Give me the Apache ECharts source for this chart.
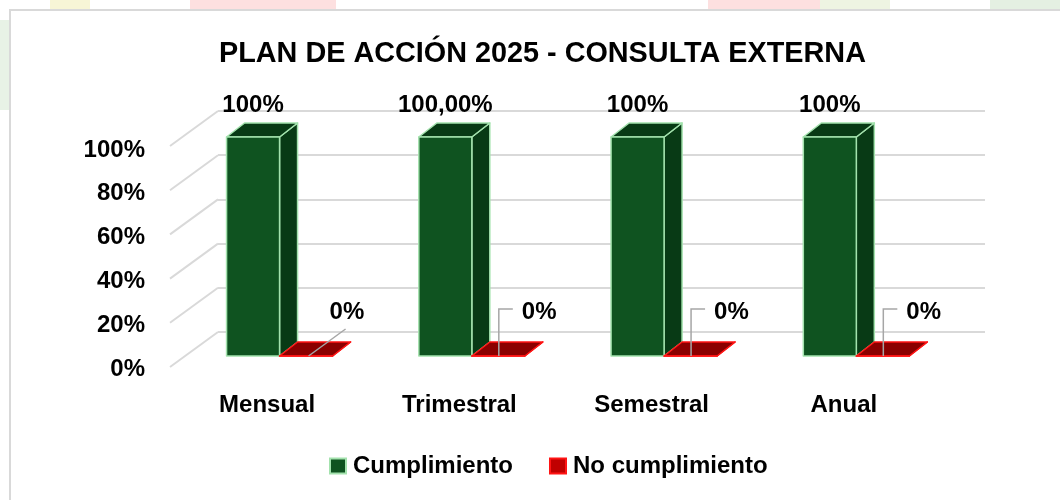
<!DOCTYPE html>
<html>
<head>
<meta charset="utf-8">
<title>Plan de acción 2025 - Consulta externa</title>
<script src="https://cdn.jsdelivr.net/npm/echarts@6/dist/echarts.min.js"></script>
<style>
  html, body { margin: 0; padding: 0; background: #fff; }
  #wrap { position: relative; width: 1060px; height: 500px; overflow: hidden; }
  .deco { position: absolute; }
  #frame { position: absolute; left: 9px; top: 9px; width: 1100px; height: 600px; border: 2px solid #d9d9d9; background: #fff; }
  #main { position: absolute; left: 0; top: 0; width: 1060px; height: 500px; }
</style>
</head>
<body>
<div id="wrap">
  <!-- faint watermark behind the chart box -->
  <div class="deco" style="left:190px;top:0;width:146px;height:10px;background:#fde0e0"></div>
  <div class="deco" style="left:708px;top:0;width:147px;height:10px;background:#fde0e0"></div>
  <div class="deco" style="left:50px;top:0;width:40px;height:10px;background:#f7f5d6"></div>
  <div class="deco" style="left:820px;top:0;width:70px;height:10px;background:#eef4e2"></div>
  <div class="deco" style="left:990px;top:0;width:70px;height:10px;background:#e4f0e2"></div>
  <div class="deco" style="left:0;top:20px;width:9px;height:90px;background:#e8f2e6"></div>
  <div id="frame"></div>
  <div id="main"></div>
</div>
<script>
const categories = ['Mensual', 'Trimestral', 'Semestral', 'Anual']
const cumplimiento = [1, 1, 1, 1]
const noCumplimiento = [0, 0, 0, 0]
const cumplimientoLabels = ['100%', '100,00%', '100%', '100%']
const noCumplimientoLabels = ['0%', '0%', '0%', '0%']
const yTicks = [0, 0.2, 0.4, 0.6, 0.8, 1]
const yTickLabels = ['0%', '20%', '40%', '60%', '80%', '100%']

// styling
const FONT = '"Liberation Sans", Arial, sans-serif'
const FS = 24
const LABEL_FONT = 'bold ' + FS + 'px ' + FONT
const BAR_W = 0.2757        // bar width as a share of the category band
const GREEN_SHIFT = -0.211  // green front face left edge, from band centre
const RED_SHIFT = GREEN_SHIFT + BAR_W
const DEPTH = [18, -14]     // 3d depth of the bars
const FLOOR = [-48, 35]     // back wall -> front edge
const zeroLeaders = ['diagonal', 'elbow', 'elbow', 'elbow']

const green = { front: '#0f5320', side: '#083a15', top: '#083a15', edge: '#a3e2ad' }
const red = { front: '#900000', side: '#7a0000', top: '#8b0000', edge: '#ff1414' }

function boxShapes(x0, w, yt, yb, c) {
  const x1 = x0 + w
  const [dx, dy] = DEPTH
  const st = { stroke: c.edge, lineWidth: 1.5, lineJoin: 'round' }
  return [
    { type: 'polygon', shape: { points: [[x1, yt], [x1 + dx, yt + dy], [x1 + dx, yb + dy], [x1, yb]] }, style: { ...st, fill: c.side } },
    { type: 'polygon', shape: { points: [[x0, yt], [x1, yt], [x1 + dx, yt + dy], [x0 + dx, yt + dy]] }, style: { ...st, fill: c.top } },
    { type: 'rect', shape: { x: x0, y: yt, width: w, height: yb - yt }, style: { ...st, fill: c.front } }
  ]
}

function renderGreen(params, api) {
  const i = api.value(0)
  const top = api.coord([i, api.value(1)])
  const base = api.coord([i, 0])
  const bw = api.size([1, 0])[0]
  const x0 = top[0] + GREEN_SHIFT * bw
  const w = BAR_W * bw
  const children = boxShapes(x0, w, top[1], base[1], green)
  children.push({
    type: 'text',
    style: { text: cumplimientoLabels[i], x: x0 + w / 2, y: top[1] - 32, font: LABEL_FONT, fill: '#000', align: 'center', verticalAlign: 'middle' }
  })
  return { type: 'group', children }
}

function renderRed(params, api) {
  const i = api.value(0)
  const top = api.coord([i, api.value(1)])
  const base = api.coord([i, 0])
  const bw = api.size([1, 0])[0]
  const x0 = top[0] + RED_SHIFT * bw
  const w = BAR_W * bw
  const yb = base[1]
  const children = boxShapes(x0, w, top[1], yb, red)
  const lead = zeroLeaders[i] === 'diagonal'
    ? [[x0 + 29, yb], [x0 + 66, yb - 27]]
    : [[x0 + 27, yb], [x0 + 27, yb - 47], [x0 + 41, yb - 47]]
  children.push({ type: 'polyline', shape: { points: lead }, style: { stroke: '#a6a6a6', lineWidth: 1.5, fill: null } })
  children.push({
    type: 'text',
    style: { text: noCumplimientoLabels[i], x: x0 + 50, y: yb - 44, font: LABEL_FONT, fill: '#000', align: 'left', verticalAlign: 'middle' }
  })
  return { type: 'group', children }
}

function renderFloorLine(params, api) {
  const p = api.coord([0, api.value(1)])
  return {
    type: 'line',
    shape: { x1: p[0], y1: p[1], x2: p[0] + FLOOR[0], y2: p[1] + FLOOR[1] },
    style: { stroke: '#d9d9d9', lineWidth: 2 }
  }
}

const chart = echarts.init(document.getElementById('main'))
chart.setOption({
  animation: false,
  title: {
    text: 'PLAN DE ACCIÓN 2025 - CONSULTA EXTERNA',
    left: 214,
    top: 35,
    textStyle: { fontFamily: FONT, fontWeight: 'bold', fontSize: 28.8, color: '#000' }
  },
  legend: {
    left: 324,
    top: 449,
    icon: 'rect',
    itemWidth: 16,
    itemHeight: 15,
    itemGap: 36,
    textStyle: { fontFamily: FONT, fontWeight: 'bold', fontSize: FS, color: '#000', padding: [0, 0, 0, 2] },
    data: ['Cumplimiento', 'No cumplimiento']
  },
  grid: [
    { left: 218, right: 75, top: 111, bottom: 168 }, // back wall
    { left: 171, right: 120, top: 137, bottom: 144 }, // bar fronts
    { left: 170, right: 120, top: 150, bottom: 131 }  // front floor edge
  ],
  xAxis: [
    { gridIndex: 0, type: 'value', min: 0, max: 1, show: false },
    {
      gridIndex: 1,
      type: 'category',
      data: categories,
      axisLine: { show: false },
      axisTick: { show: false },
      axisLabel: { margin: 36, fontFamily: FONT, fontWeight: 'bold', fontSize: FS, color: '#000', lineHeight: 26 }
    },
    { gridIndex: 2, type: 'value', min: 0, max: 1, show: false }
  ],
  yAxis: [
    {
      gridIndex: 0,
      min: 0,
      max: 1,
      interval: 0.2,
      axisLine: { show: false },
      axisTick: { show: false },
      axisLabel: { show: false },
      splitLine: { lineStyle: { color: '#d9d9d9', width: 2 } }
    },
    { gridIndex: 1, min: 0, max: 1, show: false },
    {
      gridIndex: 2,
      min: 0,
      max: 1,
      interval: 0.2,
      axisLine: { show: false },
      axisTick: { show: false },
      splitLine: { show: false },
      axisLabel: {
        margin: 25,
        fontFamily: FONT,
        fontWeight: 'bold',
        fontSize: FS,
        color: '#000',
        formatter: (v, idx) => yTickLabels[idx]
      }
    }
  ],
  series: [
    {
      type: 'custom',
      name: 'floor',
      silent: true,
      xAxisIndex: 0,
      yAxisIndex: 0,
      data: yTicks.map(v => [0, v]),
      renderItem: renderFloorLine,
      z: 1
    },
    {
      type: 'custom',
      name: 'Cumplimiento',
      xAxisIndex: 1,
      yAxisIndex: 1,
      itemStyle: { color: '#0f5320', borderColor: '#a3e2ad', borderWidth: 2 },
      data: cumplimiento.map((v, i) => [i, v]),
      renderItem: renderGreen,
      z: 3
    },
    {
      type: 'custom',
      name: 'No cumplimiento',
      xAxisIndex: 1,
      yAxisIndex: 1,
      itemStyle: { color: '#c00000', borderColor: '#ff1414', borderWidth: 2 },
      data: noCumplimiento.map((v, i) => [i, v]),
      renderItem: renderRed,
      z: 4
    }
  ]
})
</script>
</body>
</html>
